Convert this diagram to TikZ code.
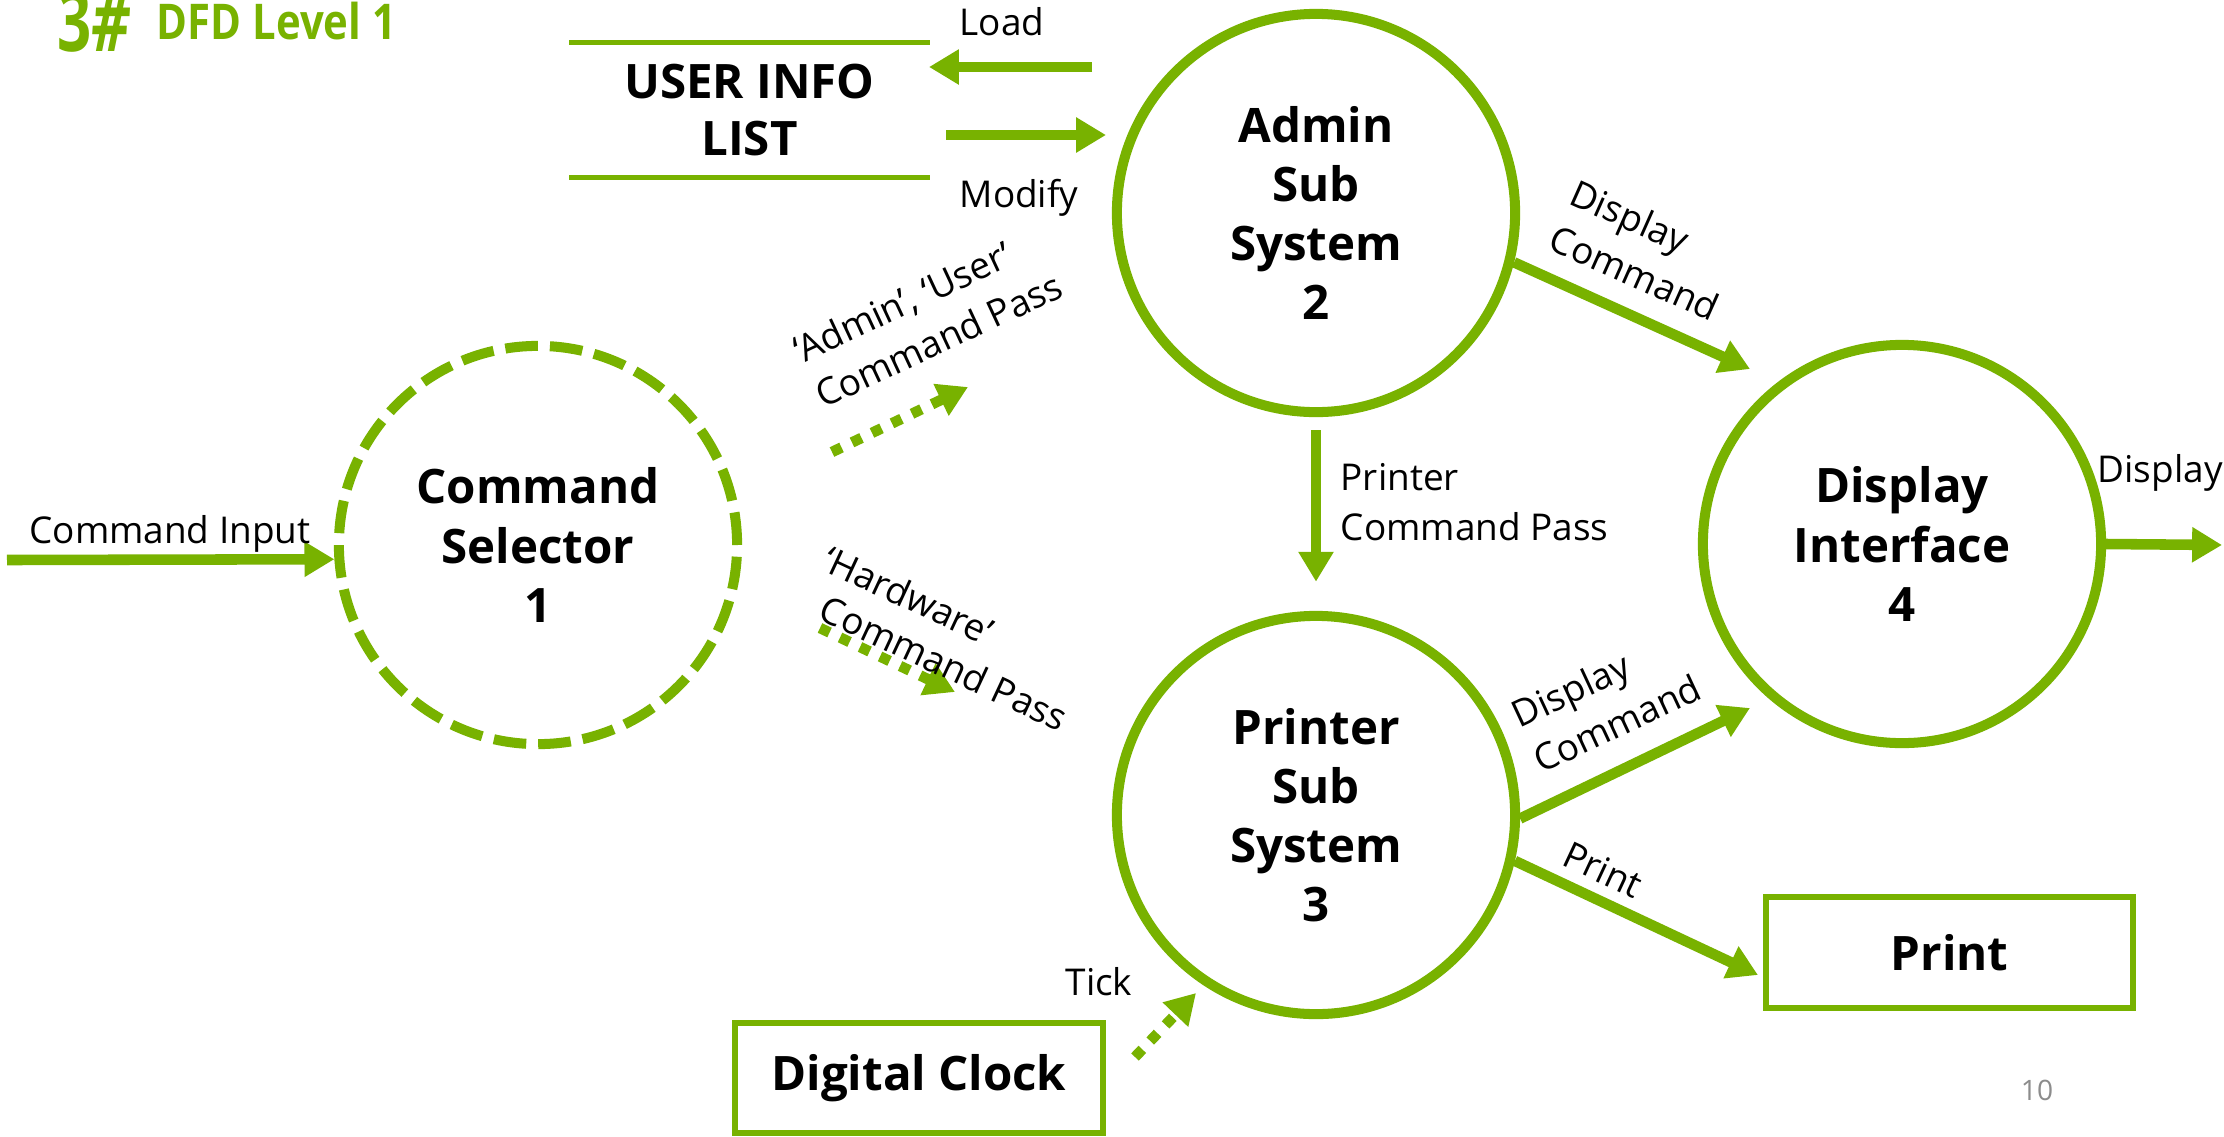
\documentclass[tikz,border=0pt]{standalone}
\usepackage{fontspec}
\setmainfont{Open Sans}
\usetikzlibrary{arrows.meta,calc}
\definecolor{dfdgreen}{RGB}{120,178,0}
\definecolor{pagegray}{RGB}{140,140,140}
\newcommand\dfdbold{\bfseries\fontsize{13.5}{16.8}\selectfont}
\newcommand\dfdlabel{\fontsize{10.5}{14.2}\selectfont}
\begin{document}
\begin{tikzpicture}[x=0.01cm,y=-0.01cm,
  proc/.style={circle, draw=dfdgreen, line width=2.85pt, minimum size=3.98cm,
    inner sep=0pt, align=center, font=\dfdbold},
  procdash/.style={proc, dash pattern=on 9.3pt off 3.41pt},
  ext/.style={rectangle, draw=dfdgreen, line width=1.7pt, inner sep=0pt, font=\dfdbold},
  storeline/.style={draw=dfdgreen, line width=1.4pt},
  flow/.style={draw=dfdgreen, line width=3pt, -{Triangle[length=8.5pt,width=9.5pt]}},
  dflow/.style={flow, dash pattern=on 3pt off 3.3pt},
  lbl/.style={font=\dfdlabel, inner sep=0pt, align=left},
]
\fill[white] (0,0) rectangle (2224,1136);
\useasboundingbox (0,0) rectangle (2224,1136);

% title
\node[anchor=base west, inner sep=0pt, text=dfdgreen, font=\bfseries\fontsize{24}{24}\selectfont] (num) at (57,51) {\scalebox{0.71}[1]{3{\itshape\#}}};
\node[anchor=base west, inner sep=0pt, text=dfdgreen, font=\bfseries\fontsize{14}{14}\selectfont] (title) at (156,39) {\scalebox{0.85}[1]{DFD Level 1}};

% processes
\node[procdash] (sel) at (538,545) {Command\\Selector\\1};
\node[proc] (admin) at (1316,213) {Admin\\Sub\\System\\2};
\node[proc] (print) at (1316,815) {Printer\\Sub\\System\\3};
\node[proc] (disp) at (1902,544) {Display\\Interface\\4};

% data store
\node[inner sep=0pt, minimum width=3.59cm, minimum height=1.34cm, align=center, font=\bfseries\fontsize{13.5}{16.2}\selectfont] (store) at (749.5,110) {USER INFO\\LIST};
\draw[storeline] (store.north west) -- (store.north east);
\draw[storeline] (store.south west) -- (store.south east);

% external entities
\node[ext, minimum width=3.68cm, minimum height=1.10cm] (clock) at (919,1078) {Digital Clock};
\node[ext, minimum width=3.67cm, minimum height=1.11cm] (prbox) at (1949.5,952.5) {Print};

% free ends
\coordinate (cin) at (7,560);
\coordinate (loadS) at (1092,67);
\coordinate (loadT) at (929,67);
\coordinate (modS) at (946,135);
\coordinate (modT) at (1106,135);
\coordinate (auS) at (832,452);
\coordinate (auT) at (968,387);
\coordinate (hwS) at (820,628);
\coordinate (hwT) at (955,692);
\coordinate (adT) at (1750,369);
\coordinate (pdT) at (1750,708);
\coordinate (prT) at (1758,975);
\coordinate (tkS) at (1135,1057);
\coordinate (tkT) at (1196,993);
\coordinate (dout) at (2222,545);

% flows
\draw[flow] (cin) -- (sel.184);
\draw[flow] (loadS) -- (loadT);
\draw[flow] (modS) -- (modT);
\draw[dflow] (auS) -- (auT);
\draw[dflow] (hwS) -- (hwT);
\draw[flow] (admin.-14) -- (adT);
\draw[flow, shorten <=3.7pt, shorten >=8.3pt] (admin.south) -- (print.north);
\draw[flow] (print.-1) -- (pdT);
\draw[flow] (print.-13) -- (prT);
\draw[dflow] (tkS) -- (tkT);
\draw[flow] (disp.east) -- (dout);

% labels
\node[lbl, anchor=base] (lcin) at (170,543) {Command Input};
\node[lbl, anchor=base west] (lload) at (959,35) {Load};
\node[lbl, anchor=base west] (lmod) at (959,207) {Modify};
\node[lbl, anchor=west, rotate=25] (lau) at (806,374) {‘Admin’, ‘User’\\Command Pass};
\node[lbl, anchor=west, rotate=-25, font=\fontsize{10.5}{13.2}\selectfont] (lhw) at (832,585) {\hspace*{-5pt}‘Hardware’\\Command Pass};
\node[lbl, anchor=west, rotate=-24] (lad) at (1562,213) {Display\\Command};
\node[lbl, anchor=west] (lap) at (1340,502) {Printer\\Command Pass};
\node[lbl, anchor=west, rotate=25] (lpd) at (1524,739) {Display\\Command};
\node[lbl, anchor=west, rotate=-25] (lpr) at (1565,852) {Print};
\node[lbl, anchor=base] (ltick) at (1099,995) {Tick};
\node[lbl, anchor=base west] (lout) at (2097,482) {Display};
\node[inner sep=0pt, anchor=base, text=pagegray, font=\fontsize{8}{8}\selectfont] (pagenum) at (2037,1100) {10};
\end{tikzpicture}
\end{document}
